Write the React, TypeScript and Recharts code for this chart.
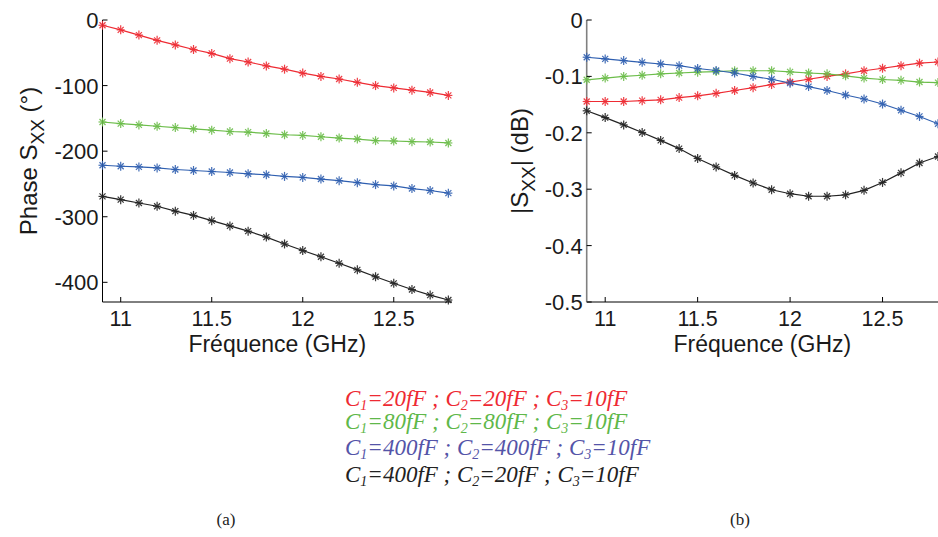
import React from "react";
import { LineChart, Line, XAxis, YAxis } from "recharts";

const FREQ = [10.9, 11.0, 11.1, 11.2, 11.3, 11.4, 11.5, 11.6, 11.7, 11.8, 11.9, 12.0, 12.1, 12.2, 12.3, 12.4, 12.5, 12.6, 12.7, 12.8];

const PHASE_RED = [-8, -15, -23, -31, -38, -45, -51, -59, -64, -70, -75, -81, -86, -90, -95, -100, -103.5, -107, -110.5, -115];
const PHASE_GREEN = [-155.5, -158, -160, -162, -164, -166, -168, -170, -171, -173, -175, -176, -178, -180, -181.5, -184, -184.5, -185.5, -186, -187.5];
const PHASE_BLUE = [-221.5, -223, -224, -225.5, -228, -229.5, -231, -232.5, -234.5, -236, -238.5, -240, -242.5, -245, -248, -251, -253, -257, -260, -264];
const PHASE_BLACK = [-269, -274, -279, -284, -291.5, -298, -306, -314, -322, -331, -341.5, -351.5, -361, -371, -381, -391.5, -401.5, -411, -419.5, -427];

const MAG_RED = [-0.1445, -0.1445, -0.1445, -0.143, -0.1415, -0.1375, -0.1345, -0.13, -0.125, -0.12, -0.1145, -0.11, -0.105, -0.1, -0.0955, -0.09, -0.0855, -0.081, -0.0765, -0.0745];
const MAG_GREEN = [-0.106, -0.103, -0.1, -0.098, -0.0955, -0.094, -0.0925, -0.0915, -0.09, -0.09, -0.09, -0.092, -0.094, -0.0955, -0.099, -0.103, -0.1055, -0.107, -0.11, -0.111];
const MAG_BLUE = [-0.066, -0.069, -0.072, -0.075, -0.078, -0.081, -0.086, -0.0895, -0.094, -0.1, -0.105, -0.112, -0.118, -0.125, -0.133, -0.14, -0.149, -0.16, -0.171, -0.184];
const MAG_BLACK = [-0.161, -0.173, -0.186, -0.1995, -0.2135, -0.228, -0.2455, -0.2605, -0.2755, -0.289, -0.301, -0.308, -0.3125, -0.3125, -0.31, -0.302, -0.288, -0.271, -0.2535, -0.242];

const X_TICKS = [11, 11.5, 12, 12.5];
const PHASE_TICKS = [0, -100, -200, -300, -400];
const MAG_TICKS = [0, -0.1, -0.2, -0.3, -0.4, -0.5];

const LEGEND = [
  { c1: "20", c2: "20", c3: "10", color: "#ee2a33" },
  { c1: "80", c2: "80", c3: "10", color: "#5fb84a" },
  { c1: "400", c2: "400", c3: "10", color: "#5454a8" },
  { c1: "400", c2: "20", c3: "10", color: "#222222" },
];

const RED = "#ee2b33";
const GREEN = "#6cbd4a";
const BLUE = "#2f5fb0";
const BLACK = "#222222";

const SANS = "'Liberation Sans', Arial, sans-serif";
const SERIF = "'Liberation Serif', 'Times New Roman', serif";
const TICK_MARGIN = 6;

const phaseData = FREQ.map((f, i) => ({
  f,
  red: PHASE_RED[i],
  green: PHASE_GREEN[i],
  blue: PHASE_BLUE[i],
  black: PHASE_BLACK[i],
}));

const magData = FREQ.map((f, i) => ({
  f,
  red: MAG_RED[i],
  green: MAG_GREEN[i],
  blue: MAG_BLUE[i],
  black: MAG_BLACK[i],
}));

// matlab style '*' marker
function starDot(color: string) {
  return (props: any) => {
    const { cx, cy, index } = props;
    if (cx == null || cy == null) return null;
    const r = 4;
    const d = 3;
    return (
      <g key={`s-${index}`} stroke={color} strokeWidth={1.2} opacity={0.9}>
        <line x1={cx - r} y1={cy} x2={cx + r} y2={cy} />
        <line x1={cx} y1={cy - r - 0.5} x2={cx} y2={cy + r + 0.5} />
        <line x1={cx - d} y1={cy - d} x2={cx + d} y2={cy + d} />
        <line x1={cx - d} y1={cy + d} x2={cx + d} y2={cy - d} />
      </g>
    );
  };
}

function XTick(props: any) {
  const { x, y, payload } = props;
  const axisY = y - TICK_MARGIN;
  return (
    <g>
      <line x1={x} y1={axisY} x2={x} y2={axisY - 5} stroke="#000" strokeWidth={1} />
      <text x={x} y={axisY + 9} dy="0.72em" textAnchor="middle" fill="#1a1a1a" fontSize={21.5} fontFamily={SANS}>
        {String(payload.value)}
      </text>
    </g>
  );
}

function yTick(fmt: (v: number) => string) {
  return (props: any) => {
    const { x, y, payload } = props;
    const axisX = x + TICK_MARGIN;
    return (
      <g>
        <line x1={axisX} y1={y} x2={axisX + 5} y2={y} stroke="#000" strokeWidth={1} />
        <text x={axisX - 4} y={y} dy="0.36em" textAnchor="end" fill="#1a1a1a" fontSize={22} fontFamily={SANS}>
          {fmt(payload.value)}
        </text>
      </g>
    );
  };
}

function xTitle(props: any) {
  const vb = props.viewBox || {};
  return (
    <text x={vb.x + vb.width / 2} y={vb.y + 50} textAnchor="middle" fill="#1a1a1a" fontSize={23} fontFamily={SANS}>
      Fréquence (GHz)
    </text>
  );
}

function phaseTitle(props: any) {
  const vb = props.viewBox || {};
  const cx = vb.x + 28;
  const cy = vb.y + vb.height / 2;
  return (
    <text
      x={cx}
      y={cy}
      transform={`rotate(-90 ${cx} ${cy})`}
      textAnchor="middle"
      dy="0.36em"
      fill="#1a1a1a"
      fontSize={24}
      fontFamily={SANS}
    >
      Phase S
      <tspan dy={7} fontSize={19}>XX</tspan>
      <tspan dy={-7}> (°)</tspan>
    </text>
  );
}

function magTitle(props: any) {
  const vb = props.viewBox || {};
  const cx = vb.x + 49;
  const cy = vb.y + vb.height / 2;
  return (
    <text
      x={cx}
      y={cy}
      transform={`rotate(-90 ${cx} ${cy})`}
      textAnchor="middle"
      dy="0.36em"
      fill="#1a1a1a"
      fontSize={24}
      fontFamily={SANS}
    >
      |S
      <tspan dy={7} fontSize={19}>XX</tspan>
      <tspan dy={-7}>| (dB)</tspan>
    </text>
  );
}

const SUB: React.CSSProperties = { fontSize: 14, position: "relative", top: 4 };

export default function App() {
  const lines = [
    { key: "red", color: RED },
    { key: "green", color: GREEN },
    { key: "blue", color: BLUE },
    { key: "black", color: BLACK },
  ];
  return (
    <div
      style={{
        position: "fixed",
        left: 0,
        top: 0,
        width: 938,
        height: 537,
        background: "#fff",
        overflow: "hidden",
      }}
    >
      <div style={{ position: "absolute", left: 0, top: 0 }}>
        <LineChart width={470} height={370} data={phaseData} margin={{ top: 20, right: 18, left: 0, bottom: 28 }}>
          <XAxis
            dataKey="f"
            type="number"
            domain={[10.9, 12.82]}
            ticks={X_TICKS}
            tickSize={0}
            tickMargin={TICK_MARGIN}
            tick={XTick}
            axisLine={{ stroke: "#000", strokeWidth: 1 }}
            height={40}
            label={xTitle}
          />
          <YAxis
            type="number"
            domain={[-430, 0]}
            ticks={PHASE_TICKS}
            tickSize={0}
            tickMargin={TICK_MARGIN}
            tick={yTick((v) => String(v))}
            axisLine={{ stroke: "#000", strokeWidth: 1 }}
            width={102.5}
            label={phaseTitle}
          />
          {lines.map((l) => (
            <Line
              key={l.key}
              type="linear"
              dataKey={l.key}
              stroke={l.color}
              strokeWidth={1.2}
              dot={starDot(l.color)}
              activeDot={false}
              isAnimationActive={false}
            />
          ))}
        </LineChart>
      </div>

      <div style={{ position: "absolute", left: 470, top: 0 }}>
        <LineChart width={468} height={370} data={magData} margin={{ top: 20, right: 0, left: 0, bottom: 28 }}>
          <XAxis
            dataKey="f"
            type="number"
            domain={[10.9, 12.8]}
            ticks={X_TICKS}
            tickSize={0}
            tickMargin={TICK_MARGIN}
            tick={XTick}
            axisLine={{ stroke: "#000", strokeWidth: 1 }}
            height={40}
            label={xTitle}
          />
          <YAxis
            type="number"
            domain={[-0.5, 0]}
            ticks={MAG_TICKS}
            tickSize={0}
            tickMargin={TICK_MARGIN}
            tick={yTick((v) => (v === 0 ? "0" : v.toFixed(1)))}
            axisLine={{ stroke: "#808080", strokeWidth: 1.6 }}
            width={116.7}
            label={magTitle}
          />
          {lines.map((l) => (
            <Line
              key={l.key}
              type="linear"
              dataKey={l.key}
              stroke={l.color}
              strokeWidth={1.2}
              dot={starDot(l.color)}
              activeDot={false}
              isAnimationActive={false}
            />
          ))}
        </LineChart>
      </div>

      {LEGEND.map((row, i) => (
        <div
          key={i}
          style={{
            position: "absolute",
            left: 345,
            top: [388, 411, 437, 464][i],
            color: row.color,
            fontFamily: SERIF,
            fontStyle: "italic",
            fontSize: 23,
            lineHeight: "22px",
            whiteSpace: "nowrap",
          }}
        >
          C<span style={SUB}>1</span>={row.c1}fF ; C<span style={SUB}>2</span>={row.c2}fF ; C
          <span style={SUB}>3</span>={row.c3}fF
        </div>
      ))}

      <div style={{ position: "absolute", left: 206, top: 510, width: 40, textAlign: "center", fontFamily: SERIF, fontSize: 17, color: "#222" }}>
        (a)
      </div>
      <div style={{ position: "absolute", left: 720, top: 510, width: 40, textAlign: "center", fontFamily: SERIF, fontSize: 17, color: "#222" }}>
        (b)
      </div>
    </div>
  );
}
